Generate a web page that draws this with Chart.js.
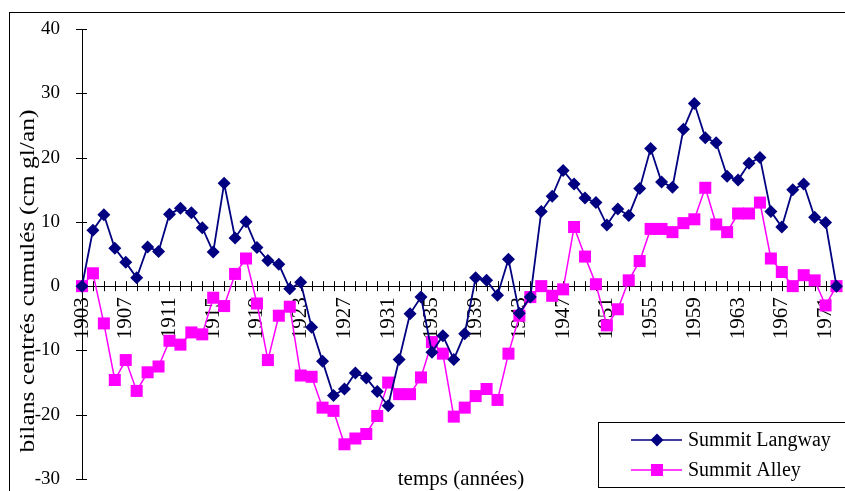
<!DOCTYPE html>
<html>
<head>
<meta charset="utf-8">
<script src="https://cdn.jsdelivr.net/npm/chart.js@4.4.1/dist/chart.umd.min.js"></script>
<style>
  html, body { margin: 0; padding: 0; background: #fff; }
  #wrap { width: 845px; height: 491px; position: relative; }
</style>
</head>
<body>
<div id="wrap"><canvas id="bilans"></canvas></div>
<script>
// ======================
// DATA
// ======================
const years = [
  1903, 1904, 1905, 1906, 1907, 1908, 1909, 1910, 1911, 1912,
  1913, 1914, 1915, 1916, 1917, 1918, 1919, 1920, 1921, 1922,
  1923, 1924, 1925, 1926, 1927, 1928, 1929, 1930, 1931, 1932,
  1933, 1934, 1935, 1936, 1937, 1938, 1939, 1940, 1941, 1942,
  1943, 1944, 1945, 1946, 1947, 1948, 1949, 1950, 1951, 1952,
  1953, 1954, 1955, 1956, 1957, 1958, 1959, 1960, 1961, 1962,
  1963, 1964, 1965, 1966, 1967, 1968, 1969, 1970, 1971, 1972
];

// années affichées sous l'axe
const labelYears = [1903, 1907, 1911, 1915, 1919, 1923, 1927, 1931, 1935,
  1939, 1943, 1947, 1951, 1955, 1959, 1963, 1967, 1971];

const yTicks = [40, 30, 20, 10, 0, -10, -20, -30];

const langway = [
  0, 8.7, 11.1, 5.9, 3.7, 1.3, 6.1, 5.4, 11.2, 12.1,
  11.4, 9.1, 5.3, 16.0, 7.5, 10.0, 6.0, 4.0, 3.4, -0.4,
  0.6, -6.4, -11.7, -17.0, -16.0, -13.5, -14.3, -16.4, -18.6, -11.4,
  -4.3, -1.7, -10.3, -7.7, -11.4, -7.4, 1.3, 0.9, -1.4, 4.2,
  -4.2, -1.7, 11.6, 14.0, 18.0, 15.9, 13.7, 13.0, 9.5, 12.0,
  11.0, 15.2, 21.4, 16.2, 15.4, 24.4, 28.4, 23.1, 22.3, 17.1,
  16.5, 19.1, 20.0, 11.6, 9.2, 15.0, 15.9, 10.7, 9.9, 0
];

const alley = [
  0, 2.0, -5.8, -14.6, -11.5, -16.3, -13.4, -12.5, -8.5, -9.1,
  -7.2, -7.5, -1.8, -3.1, 1.9, 4.3, -2.7, -11.5, -4.6, -3.2,
  -13.9, -14.1, -18.9, -19.4, -24.6, -23.7, -23.0, -20.2, -15.0, -16.8,
  -16.8, -14.2, -8.7, -10.5, -20.3, -18.9, -17.1, -16.0, -17.7, -10.5,
  -4.6, -1.7, 0.0, -1.5, -0.5, 9.2, 4.6, 0.3, -6.1, -3.6,
  0.9, 3.9, 8.9, 8.9, 8.4, 9.8, 10.4, 15.3, 9.6, 8.4,
  11.3, 11.3, 13.0, 4.3, 2.2, 0.0, 1.7, 0.9, -3.0, 0.0
];

const seriesNames = ['Summit Langway', 'Summit Alley'];
const NAVY = '#000080';
const PINK = '#ff00ff';
const SERIF = "'Liberation Serif', 'Times New Roman', serif";

// pas de marge automatique : la zone de tracé suit layout.padding
function noPadding(s) {
  s.paddingLeft = 0;
  s.paddingRight = 0;
  s.paddingTop = 0;
  s.paddingBottom = 0;
}

// ======================
// AXES + TITRES + LEGENDE
// ======================
const crossTicks = {
  id: 'crossTicks',
  beforeDatasetsDraw(chart) {
    const { ctx, scales: { x, y } } = chart;
    const y0 = y.getPixelForValue(0);
    const xl = x.left;
    ctx.save();
    ctx.strokeStyle = '#000';
    ctx.lineWidth = 1;
    ctx.beginPath();
    years.forEach((yr, i) => {
      const px = Math.round(x.getPixelForValue(i)) + 0.5;
      ctx.moveTo(px, y0 - 5);
      ctx.lineTo(px, y0 + 5);
    });
    yTicks.forEach(v => {
      const py = Math.round(y.getPixelForValue(v)) + 0.5;
      ctx.moveTo(xl - 6, py);
      ctx.lineTo(xl + 5, py);
    });
    ctx.stroke();
    ctx.restore();
  },
  afterDraw(chart) {
    const { ctx } = chart;
    ctx.save();
    ctx.fillStyle = '#000';
    ctx.textAlign = 'center';
    ctx.textBaseline = 'middle';

    // titre axe Y (un peu étiré comme dans l'original)
    ctx.font = '22px ' + SERIF;
    ctx.save();
    ctx.translate(28, 281);
    ctx.rotate(-Math.PI / 2);
    ctx.scale(1.16, 1);
    ctx.fillText('bilans centrés cumulés (cm gl/an)', 0, 0);
    ctx.restore();

    // titre axe X
    ctx.font = '21px ' + SERIF;
    ctx.fillText('temps (années)', 461, 479);

    // cadre extérieur
    ctx.strokeStyle = '#000';
    ctx.lineWidth = 1;
    ctx.strokeRect(9.5, 12.5, 850, 500);

    // légende
    ctx.fillStyle = '#fff';
    ctx.fillRect(598, 422, 260, 66);
    ctx.strokeRect(598.5, 422.5, 260, 65);

    const rows = [
      { y: 440, color: NAVY, shape: 'diamond' },
      { y: 470, color: PINK, shape: 'square' }
    ];
    rows.forEach((r, i) => {
      ctx.strokeStyle = r.color;
      ctx.lineWidth = 1.5;
      ctx.beginPath();
      ctx.moveTo(631, r.y);
      ctx.lineTo(682, r.y);
      ctx.stroke();
      ctx.fillStyle = r.color;
      ctx.beginPath();
      if (r.shape === 'diamond') {
        ctx.moveTo(657, r.y - 6.5);
        ctx.lineTo(663.5, r.y);
        ctx.lineTo(657, r.y + 6.5);
        ctx.lineTo(650.5, r.y);
        ctx.closePath();
      } else {
        ctx.rect(651, r.y - 6, 12, 12);
      }
      ctx.fill();
      ctx.fillStyle = '#000';
      ctx.font = '20px ' + SERIF;
      ctx.textAlign = 'left';
      ctx.fillText(seriesNames[i], 688, r.y + 1);
    });
    ctx.restore();
  }
};

// ======================
// CHART
// ======================
new Chart(document.getElementById('bilans'), {
  type: 'line',
  data: {
    labels: years,
    datasets: [
      {
        label: seriesNames[0],
        data: langway,
        borderColor: NAVY,
        backgroundColor: NAVY,
        borderWidth: 1.8,
        pointStyle: 'rectRot',
        pointRadius: 6.5,
        pointBorderWidth: 0,
        pointBackgroundColor: NAVY,
        tension: 0,
        clip: false
      },
      {
        label: seriesNames[1],
        data: alley,
        borderColor: PINK,
        backgroundColor: PINK,
        borderWidth: 1.5,
        pointStyle: 'rect',
        pointRadius: 8.5,
        pointBorderWidth: 0,
        pointBackgroundColor: PINK,
        tension: 0,
        clip: false
      }
    ]
  },
  options: {
    responsive: true,
    maintainAspectRatio: false,
    animation: false,
    layout: {
      padding: { left: 10, right: 6, top: 29, bottom: 12 }
    },
    plugins: {
      legend: { display: false },
      tooltip: { enabled: false }
    },
    scales: {
      x: {
        type: 'category',
        position: { y: 0 },
        offset: false,
        grid: { display: false },
        border: { display: true, color: '#000', width: 1 },
        afterFit: noPadding,
        ticks: {
          autoSkip: false,
          minRotation: 90,
          maxRotation: 90,
          padding: 3,
          color: '#000',
          font: { family: SERIF, size: 21 },
          callback: function (val, idx) {
            const yr = years[idx];
            return labelYears.includes(yr) ? String(yr) : '';
          }
        }
      },
      y: {
        min: -30,
        max: 40,
        grid: { display: false },
        border: { display: true, color: '#000', width: 1 },
        afterFit: (s) => { s.width = 72; noPadding(s); },
        ticks: {
          stepSize: 10,
          padding: 14,
          color: '#000',
          font: { family: SERIF, size: 19 }
        }
      }
    }
  },
  plugins: [crossTicks]
});
</script>
</body>
</html>
